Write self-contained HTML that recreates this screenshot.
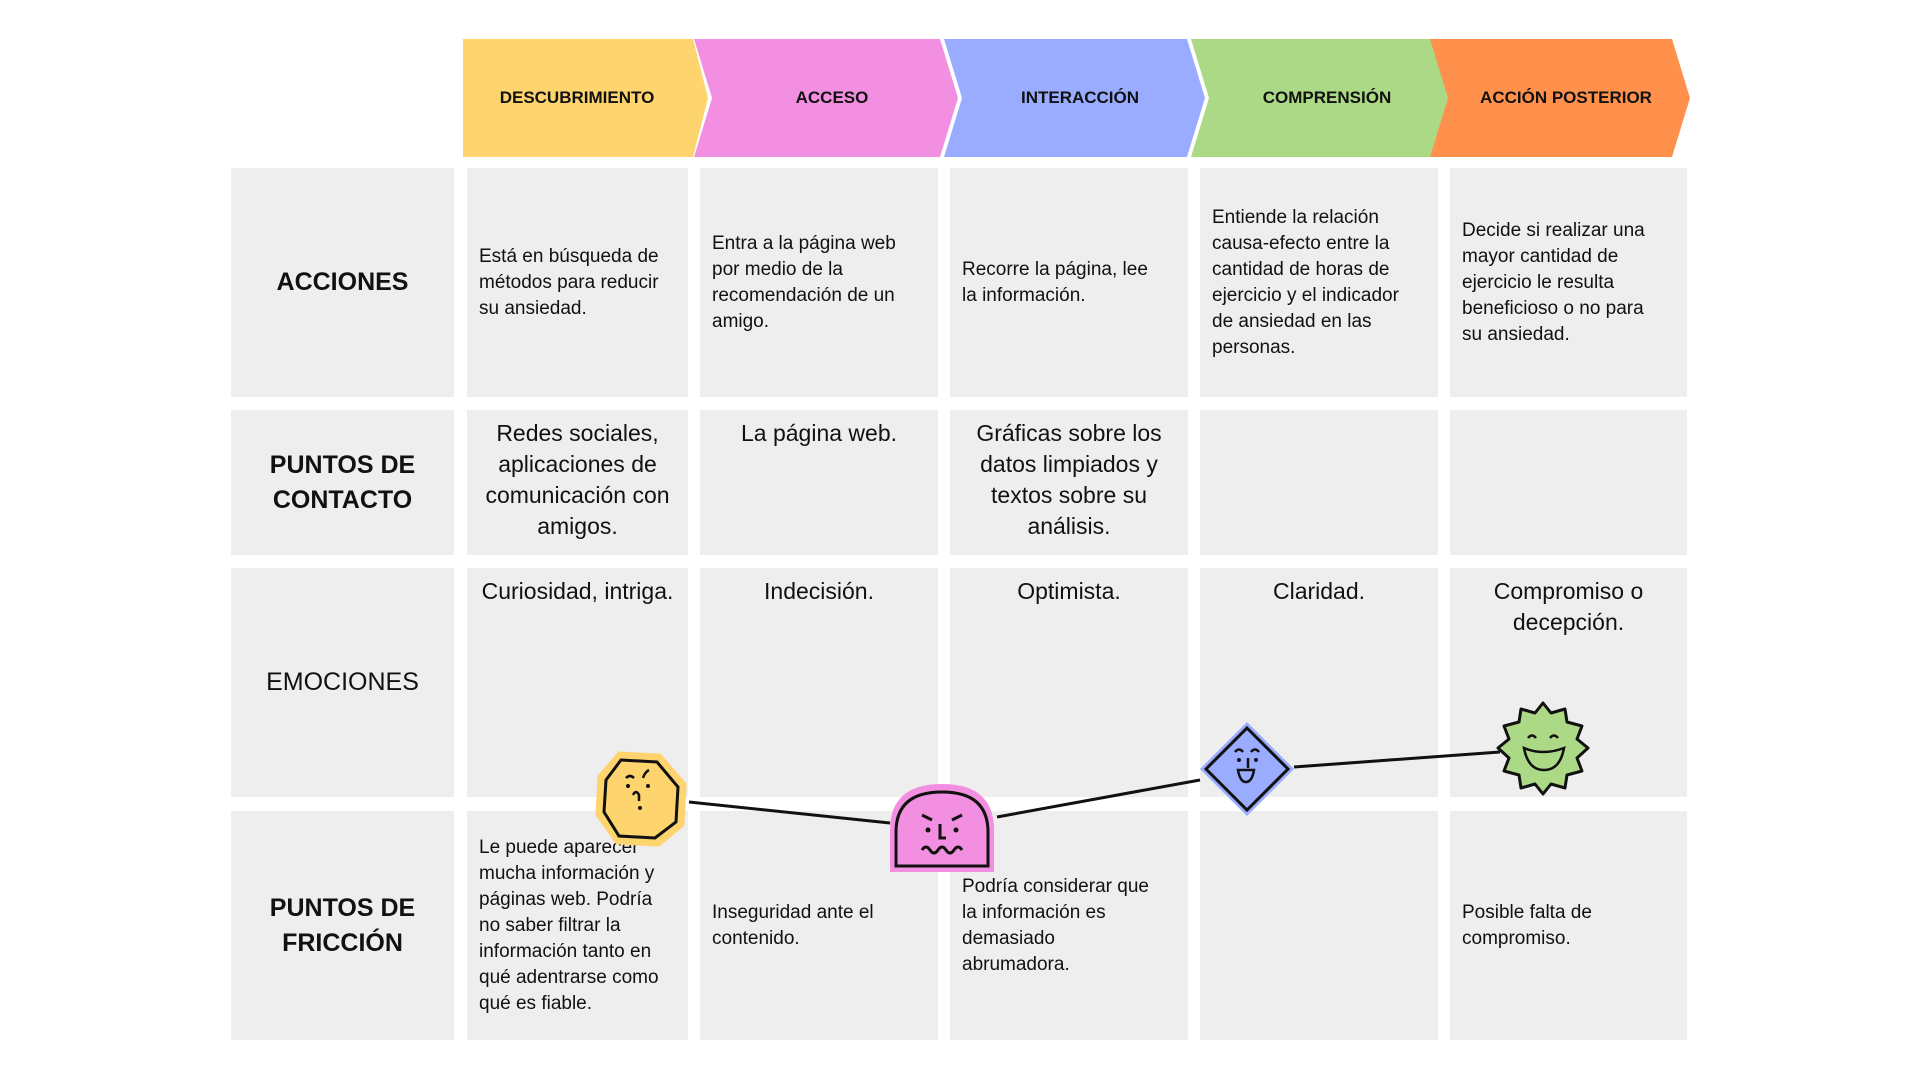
<!DOCTYPE html>
<html><head><meta charset="utf-8"><style>
body{margin:0;width:1920px;height:1080px;background:#fff;position:relative;overflow:hidden;font-family:"Liberation Sans",sans-serif;color:#111}
.c{position:absolute;background:#eeeeee;box-sizing:border-box}
.lab{display:flex;align-items:center;justify-content:center;text-align:center;font-size:25px;font-weight:bold;line-height:35px}
.act{display:flex;align-items:center;padding:0 24px 0 12px;font-size:19px;line-height:26px}
.tp{text-align:center;font-size:23px;line-height:31px;padding:8px 6px 0}
.hd{position:absolute;top:39px;height:118px;display:flex;align-items:center;justify-content:center;font-size:17px;font-weight:bold}
</style></head><body>
<svg width="1920" height="1080" style="position:absolute;left:0;top:0">
<polygon points="463,39 693,39 708,98 693,157 463,157" fill="#fed46e"/>
<polygon points="694,39 940,39 958,98 940,157 694,157 712,98" fill="#f38fe0"/>
<polygon points="944,39 1187,39 1205,98 1187,157 944,157 962,98" fill="#9aacff"/>
<polygon points="1191,39 1433,39 1451,98 1433,157 1191,157 1209,98" fill="#acd986"/>
<polygon points="1430,39 1672,39 1690,98 1672,157 1430,157 1448,98" fill="#ff914d"/>
</svg>
<div class="hd" style="left:463px;width:228px">DESCUBRIMIENTO</div>
<div class="hd" style="left:712px;width:240px">ACCESO</div>
<div class="hd" style="left:962px;width:236px">INTERACCIÓN</div>
<div class="hd" style="left:1209px;width:236px">COMPRENSIÓN</div>
<div class="hd" style="left:1448px;width:236px">ACCIÓN POSTERIOR</div>

<div class="c lab" style="left:231px;top:168px;width:223px;height:229px">ACCIONES</div>
<div class="c act" style="left:467px;top:168px;width:221px;height:229px;padding-right:14px">Está en búsqueda de métodos para reducir su ansiedad.</div>
<div class="c act" style="left:700px;top:168px;width:238px;height:229px">Entra a la página web por medio de la recomendación de un amigo.</div>
<div class="c act" style="left:950px;top:168px;width:238px;height:229px">Recorre la página, lee la información.</div>
<div class="c act" style="left:1200px;top:168px;width:238px;height:229px">Entiende la relación causa-efecto entre la cantidad de horas de ejercicio y el indicador de ansiedad en las personas.</div>
<div class="c act" style="left:1450px;top:168px;width:237px;height:229px">Decide si realizar una mayor cantidad de ejercicio le resulta beneficioso o no para su ansiedad.</div>

<div class="c lab" style="left:231px;top:410px;width:223px;height:145px">PUNTOS DE<br>CONTACTO</div>
<div class="c tp" style="left:467px;top:410px;width:221px;height:145px">Redes sociales, aplicaciones de comunicación con amigos.</div>
<div class="c tp" style="left:700px;top:410px;width:238px;height:145px">La página web.</div>
<div class="c tp" style="left:950px;top:410px;width:238px;height:145px">Gráficas sobre los datos limpiados y textos sobre su análisis.</div>
<div class="c" style="left:1200px;top:410px;width:238px;height:145px"></div>
<div class="c" style="left:1450px;top:410px;width:237px;height:145px"></div>

<div class="c lab" style="left:231px;top:568px;width:223px;height:229px;font-weight:normal">EMOCIONES</div>
<div class="c tp" style="left:467px;top:568px;width:221px;height:229px">Curiosidad, intriga.</div>
<div class="c tp" style="left:700px;top:568px;width:238px;height:229px">Indecisión.</div>
<div class="c tp" style="left:950px;top:568px;width:238px;height:229px">Optimista.</div>
<div class="c tp" style="left:1200px;top:568px;width:238px;height:229px">Claridad.</div>
<div class="c tp" style="left:1450px;top:568px;width:237px;height:229px">Compromiso o decepción.</div>

<div class="c lab" style="left:231px;top:811px;width:223px;height:229px">PUNTOS DE<br>FRICCIÓN</div>
<div class="c act" style="left:467px;top:811px;width:221px;height:229px;padding-right:14px">Le puede aparecer mucha información y páginas web. Podría no saber filtrar la información tanto en qué adentrarse como qué es fiable.</div>
<div class="c act" style="left:700px;top:811px;width:238px;height:229px">Inseguridad ante el contenido.</div>
<div class="c act" style="left:950px;top:811px;width:238px;height:229px;padding-right:30px">Podría considerar que la información es demasiado abrumadora.</div>
<div class="c" style="left:1200px;top:811px;width:238px;height:229px"></div>
<div class="c act" style="left:1450px;top:811px;width:237px;height:229px">Posible falta de compromiso.</div>

<svg width="1920" height="1080" style="position:absolute;left:0;top:0">
<g stroke="#111" stroke-width="3" fill="none">
<line x1="689" y1="802" x2="890" y2="823"/>
<line x1="997" y1="817" x2="1200" y2="780"/>
<line x1="1294" y1="767" x2="1500" y2="752"/>
</g>
<polygon points="620,755 659,757 683,785 681,824 658,843 618,841 599,814 601,777" fill="#fed46e" stroke="#fed46e" stroke-width="7"/>
<polygon points="621,760 657,762 678,787 676,822 655,838 619,836 604,812 606,780" fill="#fed46e" stroke="#111" stroke-width="3"/>
<g stroke="#111" stroke-width="2.5" fill="none"><path d="M626,778 q4,-4 8,0"/><path d="M643,778 q2,-6 6,-8"/><path d="M633,795 q3,-6 6,0 v6"/></g>
<circle cx="628" cy="786" r="2" fill="#111"/><circle cx="648" cy="786" r="2" fill="#111"/><circle cx="640" cy="808" r="2" fill="#111"/>
<path d="M890,872 V830 Q890,784 942,784 Q994,784 994,830 V872 Z" fill="#f38fe0"/>
<path d="M896,866 V832 Q896,792 942,792 Q988,792 988,832 V866 Z" fill="none" stroke="#111" stroke-width="3"/>
<g stroke="#111" stroke-width="3" fill="none"><path d="M922,815 l10,5"/><path d="M962,815 l-10,5"/><path d="M940,824 v14 h6"/><path d="M922,850 q4,-6 8,0 q4,6 8,0 q4,-6 8,0 q4,6 8,0 q4,-6 8,0"/></g>
<circle cx="928" cy="830" r="2.5" fill="#111"/><circle cx="956" cy="830" r="2.5" fill="#111"/>
<polygon points="1247,722 1294,769 1247,816 1200,769" fill="#9aacff"/>
<polygon points="1247,728 1288,769 1247,810 1206,769" fill="#9aacff" stroke="#111" stroke-width="3"/>
<g stroke="#111" stroke-width="2.5" fill="none"><path d="M1235,752 q4,-5 8,0"/><path d="M1251,752 q4,-5 8,0"/><path d="M1248,758 v10"/><path d="M1238,770 h16 q-2,12 -8,12 q-6,0 -8,-12z"/></g>
<circle cx="1239" cy="760" r="2" fill="#111"/><circle cx="1256" cy="760" r="2" fill="#111"/>
<polygon points="1543,703 1551,713 1565,709 1567,722 1582,726 1577,739 1588,748 1577,758 1582,771 1567,775 1565,788 1551,784 1543,794 1535,784 1521,788 1519,775 1504,771 1509,758 1498,748 1509,739 1504,726 1519,722 1521,709 1535,713" fill="#acd986" stroke="#111" stroke-width="3" stroke-linejoin="round"/>
<g stroke="#111" stroke-width="2.5" fill="none"><path d="M1528,738 q4,-5 8,0"/><path d="M1550,738 q4,-5 8,0"/><path d="M1524,748 q19,8 40,0 q-4,22 -20,22 q-16,0 -20,-22z"/></g>
</svg>
</body></html>
